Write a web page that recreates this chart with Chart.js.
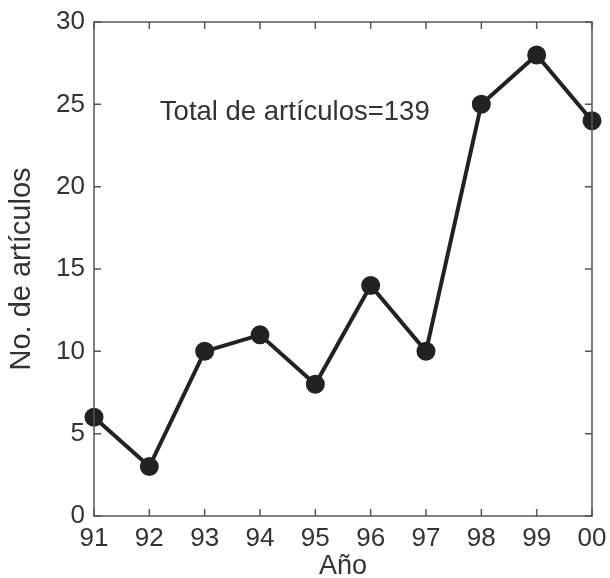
<!DOCTYPE html>
<html>
<head>
<meta charset="utf-8">
<script src="https://cdn.jsdelivr.net/npm/chart.js@4/dist/chart.umd.min.js"></script>
<style>
  html, body { margin: 0; padding: 0; background: #fff; }
  #wrap { width: 610px; height: 578px; }
</style>
</head>
<body>
<div id="wrap"><canvas id="chart" width="610" height="578"></canvas></div>
<script>
const years    = ['91', '92', '93', '94', '95', '96', '97', '98', '99', '00'];
const articles = [6, 3, 10, 11, 8, 14, 10, 25, 28, 24];
const yTicks   = [0, 5, 10, 15, 20, 25, 30];
const noteText = 'Total de artículos=139';

const FONT = "'Liberation Sans', Arial, sans-serif";
const INK  = '#222';

// frame + inward tick marks, like the original plot
const framePlugin = {
  id: 'frame',
  afterDatasetsDraw(chart) {
    const { ctx, chartArea: a, scales: { x, y } } = chart;
    const len = 7;
    ctx.save();
    ctx.strokeStyle = '#555';
    ctx.lineWidth = 1.5;
    ctx.strokeRect(a.left, a.top, a.right - a.left, a.bottom - a.top);
    ctx.beginPath();
    x.ticks.forEach((t, i) => {
      const px = x.getPixelForTick(i);
      ctx.moveTo(px, a.bottom); ctx.lineTo(px, a.bottom - len);
      ctx.moveTo(px, a.top);    ctx.lineTo(px, a.top + len);
    });
    y.ticks.forEach((t, i) => {
      const py = y.getPixelForTick(i);
      ctx.moveTo(a.left, py);  ctx.lineTo(a.left + len, py);
      ctx.moveTo(a.right, py); ctx.lineTo(a.right - len, py);
    });
    ctx.stroke();
    ctx.restore();
  },
};

const notePlugin = {
  id: 'note',
  afterDraw(chart) {
    const { ctx, scales: { x, y } } = chart;
    ctx.save();
    ctx.fillStyle = '#333';
    ctx.font = '27.5px ' + FONT;
    ctx.textAlign = 'left';
    ctx.textBaseline = 'middle';
    ctx.fillText(noteText, x.getPixelForValue(1.19), y.getPixelForValue(24.5));
    ctx.restore();
  },
};

new Chart(document.getElementById('chart').getContext('2d'), {
  type: 'line',
  data: {
    labels: years,
    datasets: [{
      data: articles,
      borderColor: INK,
      backgroundColor: INK,
      borderWidth: 4,
      pointRadius: 7.5,
      pointBackgroundColor: INK,
      pointBorderColor: INK,
      tension: 0,
    }],
  },
  options: {
    responsive: false,
    animation: false,
    layout: { padding: { top: 22, right: 18, bottom: 0, left: 0 } },
    plugins: { legend: { display: false }, tooltip: { enabled: false } },
    scales: {
      x: {
        type: 'category',
        offset: false,
        grid: { display: false, drawTicks: false },
        border: { display: false },
        ticks: { color: '#333', font: { family: FONT, size: 26 }, padding: 7, maxRotation: 0, autoSkip: false },
        title: { display: true, text: 'Año', color: '#333', font: { family: FONT, size: 27 }, padding: { top: 0, bottom: -5 } },
        afterFit(s) { s.height = 62; s.paddingRight = 0; s.paddingLeft = 0; },
      },
      y: {
        min: 0,
        max: 30,
        afterBuildTicks(s) { s.ticks = yTicks.map(v => ({ value: v })); },
        grid: { display: false, drawTicks: false },
        border: { display: false },
        ticks: { color: '#333', font: { family: FONT, size: 26 }, padding: 9 },
        title: { display: true, text: 'No. de artículos', color: '#333', font: { family: FONT, size: 29 }, padding: { top: 5, bottom: 0 } },
        afterFit(s) { s.width = 94; s.paddingTop = 0; s.paddingBottom = 0; },
      },
    },
  },
  plugins: [framePlugin, notePlugin],
});
</script>
</body>
</html>
